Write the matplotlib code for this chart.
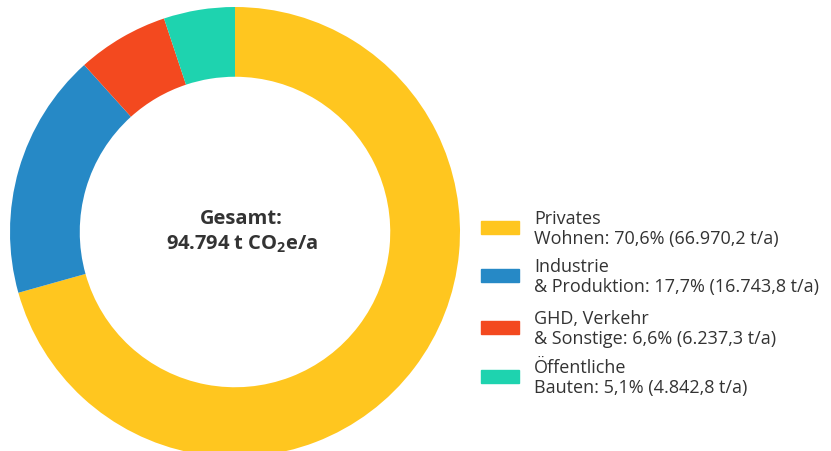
import matplotlib
matplotlib.use("Agg")
import matplotlib.pyplot as plt
from matplotlib.patches import Rectangle

plt.rcParams["font.family"] = ["Open Sans", "DejaVu Sans"]
plt.rcParams["mathtext.default"] = "regular"

labels = ["Privates\nWohnen: 70,6% (66.970,2 t/a)",
          "Industrie\n& Produktion: 17,7% (16.743,8 t/a)",
          "GHD, Verkehr\n& Sonstige: 6,6% (6.237,3 t/a)",
          "Öffentliche\nBauten: 5,1% (4.842,8 t/a)"]
values = [66970.2, 16743.8, 6237.3, 4842.8]
colors = ["#FFC61F", "#2689C6", "#F3491F", "#1ED3AF"]
total_text = "Gesamt:\n94.794 t CO$_2$e/a"

W, H = 831, 452
fig = plt.figure(figsize=(W / 100, H / 100), dpi=100)

# donut: centre (235, 233) px, radius 225 px
cx, cy, r = 235, 233, 225
ax = fig.add_axes([(cx - r) / W, (H - cy - r) / H, 2 * r / W, 2 * r / H])
ax.pie(values, colors=colors, startangle=90, counterclock=False, radius=1,
       wedgeprops=dict(width=0.31, edgecolor="none"))
ax.set_xlim(-1, 1)
ax.set_ylim(-1, 1)
ax.set_aspect("equal")
ax.axis("off")
ax.text(0.03, 0.005, total_text, ha="center", va="center", fontsize=14.5,
        fontweight="bold", color="#333333", linespacing=1.3)

# legend
row_y = [228, 276, 328, 377]
for lab, col, y in zip(labels, colors, row_y):
    fig.add_artist(Rectangle((481 / W, 1 - (y + 6.5) / H), 38 / W, 13 / H,
                             transform=fig.transFigure, color=col))
    fig.text(534 / W, 1 - (y + 1) / H, lab, ha="left", va="center",
             fontsize=13, color="#333333", linespacing=1.1)

fig.savefig("out.png", dpi=100)
